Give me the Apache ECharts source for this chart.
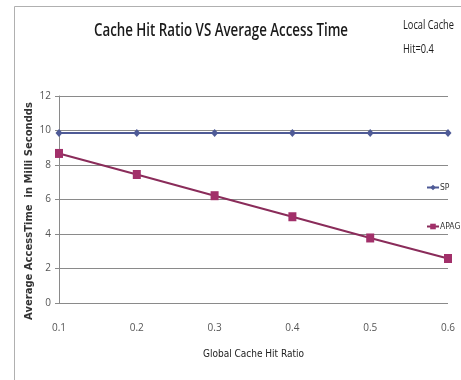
<!DOCTYPE html>
<html>
<head>
<meta charset="utf-8">
<script src="https://cdn.jsdelivr.net/npm/echarts@6/dist/echarts.min.js"></script>
<style>
  html, body { margin: 0; padding: 0; background: #fff; }
  #chart { width: 461px; height: 380px; }
</style>
</head>
<body>
<div id="chart"></div>
<script>
// Global cache hit ratio on the x axis
const hitRatios = ['0.1', '0.2', '0.3', '0.4', '0.5', '0.6'];
// Average access time (ms) for each scheme
const spTimes = [9.85, 9.85, 9.85, 9.85, 9.85, 9.85];
const apagTimes = [8.67, 7.45, 6.22, 5.0, 3.77, 2.58];
// Value axis range
const yMin = 0, yMax = 12, yStep = 2;

const sans = '"Open Sans", sans-serif';
const condensed = '"DejaVu Sans Condensed", "Open Sans", sans-serif';

const chart = echarts.init(document.getElementById('chart'), null, { renderer: 'canvas' });
chart.setOption({
  backgroundColor: '#ffffff',
  animation: false,
  grid: { left: 59, right: 13, top: 96, bottom: 77 },
  legend: {
    orient: 'vertical',
    left: 426, top: 183,
    padding: 0,
    itemGap: 30,
    itemWidth: 12, itemHeight: 7,
    textStyle: { fontFamily: condensed, fontSize: 8.5, color: '#333', padding: [0, 0, 0, -4] },
    data: ['SP', 'APAG']
  },
  xAxis: {
    type: 'category',
    data: hitRatios,
    boundaryGap: false,
    name: 'Global Cache Hit Ratio',
    nameLocation: 'middle',
    nameGap: 46,
    nameTextStyle: { fontFamily: condensed, fontSize: 10, color: '#222' },
    axisLine: { show: false },
    axisTick: { show: false },
    axisLabel: { fontFamily: sans, fontSize: 10, color: '#555', margin: 20 },
    splitLine: { show: false }
  },
  yAxis: {
    type: 'value',
    min: yMin, max: yMax, interval: yStep,
    axisLine: { show: true, lineStyle: { color: '#8a8a8a', width: 1 } },
    axisTick: { show: true, length: 4, lineStyle: { color: '#8a8a8a' } },
    axisLabel: { fontFamily: sans, fontSize: 10, color: '#555', margin: 8 },
    splitLine: { show: true, lineStyle: { color: '#8a8a8a', width: 1 } }
  },
  series: [
    {
      name: 'SP',
      type: 'line',
      data: spTimes,
      symbol: 'diamond',
      symbolSize: [7, 8],
      lineStyle: { color: '#4e5a96', width: 2 },
      itemStyle: { color: '#4e5a96' }
    },
    {
      name: 'APAG',
      type: 'line',
      data: apagTimes,
      symbol: 'rect',
      symbolSize: [8, 9],
      lineStyle: { color: '#8a2c5a', width: 2 },
      itemStyle: { color: '#a2306a' }
    }
  ],
  graphic: [
    // chart frame
    { type: 'line', shape: { x1: 14.5, y1: 6.5, x2: 461, y2: 6.5 }, style: { stroke: '#b0b0b0', lineWidth: 1 } },
    { type: 'line', shape: { x1: 14.5, y1: 6.5, x2: 14.5, y2: 380 }, style: { stroke: '#b0b0b0', lineWidth: 1 } },
    // main title, set in a condensed face
    {
      type: 'text',
      x: 221, y: 31, scaleX: 0.74,
      style: {
        text: 'Cache Hit Ratio VS Average Access Time',
        font: '600 18px "Open Sans", sans-serif',
        fill: '#1a1a1a', align: 'center', verticalAlign: 'middle'
      }
    },
    // parameter note in the top-right corner
    {
      type: 'text',
      x: 403, y: 25, scaleX: 0.74,
      style: {
        text: 'Local Cache',
        font: '500 12.5px "Open Sans", sans-serif',
        fill: '#1a1a1a', align: 'left', verticalAlign: 'middle'
      }
    },
    {
      type: 'text',
      x: 403, y: 49, scaleX: 0.74,
      style: {
        text: 'Hit=0.4',
        font: '500 12.5px "Open Sans", sans-serif',
        fill: '#1a1a1a', align: 'left', verticalAlign: 'middle'
      }
    },
    // y axis title
    {
      type: 'text',
      x: 29, y: 211,
      rotation: Math.PI / 2,
      style: {
        text: 'Average AccessTime  in Milli Secondds',
        font: 'bold 10px "DejaVu Sans", sans-serif',
        fill: '#333', align: 'center', verticalAlign: 'middle'
      }
    }
  ]
});
</script>
</body>
</html>
